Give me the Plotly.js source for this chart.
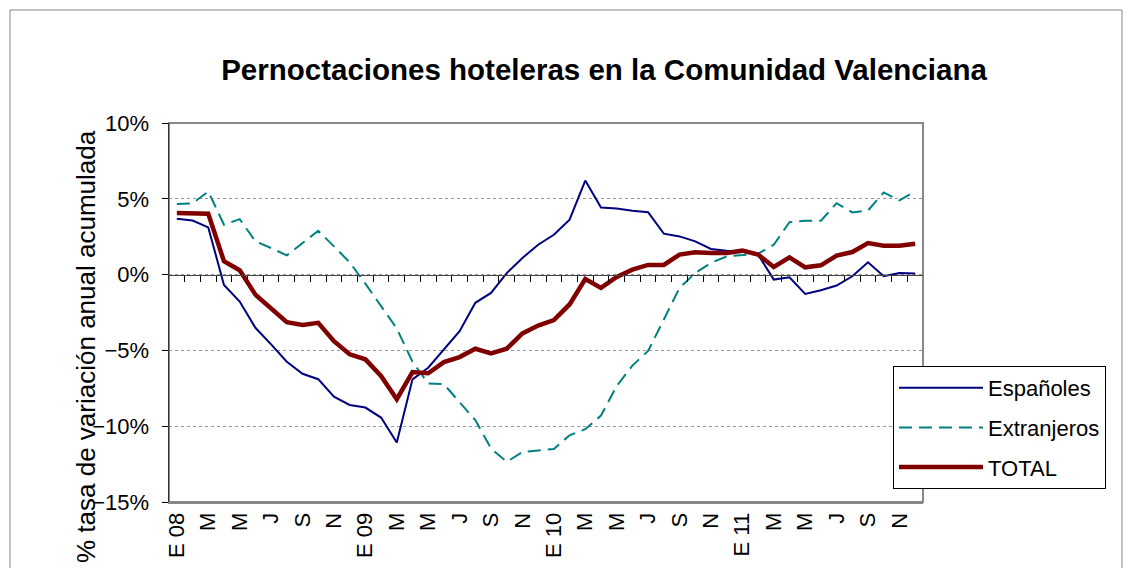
<!DOCTYPE html>
<html>
<head>
<meta charset="utf-8">
<script src="https://cdn.plot.ly/plotly-3.0.1.min.js"></script>
<style>html,body{margin:0;padding:0;background:#fff;}#chart{width:1132px;height:568px;}</style>
</head>
<body>
<div id="chart"></div>
<script>
// Monthly series, Jan 2008 .. Dec 2011 (% annual accumulated variation)
const espanoles = [3.68, 3.57, 3.11, -0.68, -1.78, -3.51, -4.6, -5.75, -6.54, -6.9, -8.05, -8.6,
  -8.77, -9.43, -11.07, -6.91, -6.14, -4.93, -3.73, -1.86, -1.21, 0.1, 1.1, 1.97,
  2.63, 3.62, 6.2, 4.43, 4.36, 4.21, 4.12, 2.7, 2.52, 2.19, 1.69, 1.58,
  1.5, 1.32, -0.33, -0.18, -1.27, -1.03, -0.72, -0.11, 0.81, -0.11, 0.11, 0.07];
const extranjeros = [4.65, 4.7, 5.48, 3.29, 3.66, 2.2, 1.75, 1.27, 2.08, 2.89, 1.86, 0.81,
  -0.6, -2.1, -3.55, -5.75, -7.18, -7.23, -8.4, -9.6, -11.47, -12.35, -11.7, -11.58,
  -11.5, -10.6, -10.2, -9.3, -7.35, -6.0, -5.04, -2.96, -0.88, 0.1, 0.77, 1.2,
  1.29, 1.38, 1.97, 3.46, 3.55, 3.55, 4.71, 4.1, 4.23, 5.42, 4.89, 5.48];
const total = [4.06, 4.01, 4.01, 0.88, 0.29, -1.32, -2.19, -3.14, -3.33, -3.18, -4.39, -5.26,
  -5.59, -6.69, -8.22, -6.43, -6.51, -5.77, -5.44, -4.89, -5.2, -4.89, -3.88, -3.36,
  -3.0, -1.97, -0.29, -0.88, -0.15, 0.33, 0.64, 0.64, 1.32, 1.47, 1.43, 1.43,
  1.58, 1.32, 0.5, 1.14, 0.48, 0.61, 1.25, 1.49, 2.08, 1.91, 1.91, 2.04];
const tickLabels = ['E 08','M','M','J','S','N','E 09','M','M','J','S','N',
  'E 10','M','M','J','S','N','E 11','M','M','J','S','N'];
const seriesNames = ['Españoles', 'Extranjeros', 'TOTAL'];

const xs = espanoles.map((_, i) => i);
const labelVals = tickLabels.map((_, i) => i * 2);
const boundaryVals = xs.slice(0, xs.length - 1).map(i => i + 0.5);

const traces = [
  {x: xs, y: espanoles, name: seriesNames[0], type: 'scatter', mode: 'lines', legendgroup: 'a',
   line: {color: '#000080', width: 2}},
  {x: xs, y: extranjeros, name: seriesNames[1], type: 'scatter', mode: 'lines', legendgroup: 'b',
   line: {color: '#008080', width: 2, dash: '13px,7px'}},
  {x: xs, y: total, name: seriesNames[2], type: 'scatter', mode: 'lines', legendgroup: 'c',
   line: {color: '#800000', width: 4.5}},
  // empty trace so the zero-crossing category axis (x2) is drawn
  {x: [], y: [], xaxis: 'x2', yaxis: 'y', type: 'scatter', mode: 'lines',
   showlegend: false, hoverinfo: 'skip'}
];

// plot area in pixels: x 169..923, y 123..502
const L = 169, R = 923, T = 123, B = 502;
const px = v => (v - L) / (R - L);
const py = v => (B - v) / (B - T);

const layout = {
  width: 1132, height: 568,
  margin: {l: L, r: 1132 - R, t: T, b: 568 - B, pad: 0},
  paper_bgcolor: '#fff', plot_bgcolor: '#fff',
  font: {family: 'Liberation Sans, Arial, sans-serif', color: '#000'},
  title: {text: '<b>Pernoctaciones hoteleras en la Comunidad Valenciana</b>',
    font: {size: 29.5, color: '#000'}, x: px(604), xref: 'paper', xanchor: 'center',
    y: 1 - 70 / 568, yref: 'container', yanchor: 'middle'},
  showlegend: true,
  legend: {x: px(893), y: py(366), xanchor: 'left', yanchor: 'top',
    bgcolor: '#fff', bordercolor: '#000', borderwidth: 1,
    font: {size: 22, color: '#000'}, tracegroupgap: 8, itemwidth: 84},
  xaxis: {range: [-0.5, 47.5], tickmode: 'array', tickvals: labelVals, ticktext: tickLabels,
    tickangle: -90, ticks: '', showgrid: false, zeroline: false,
    showline: true, linecolor: '#888', linewidth: 2, mirror: false,
    tickfont: {size: 22, color: '#000'}, fixedrange: true},
  xaxis2: {range: [-0.5, 47.5], overlaying: 'x', anchor: 'free', position: 0.6,
    tickmode: 'array', tickvals: boundaryVals, ticks: 'outside', ticklen: 6, tickwidth: 1,
    tickcolor: '#000', showticklabels: false, showgrid: false, zeroline: false,
    showline: true, linecolor: '#444', linewidth: 1.5, side: 'bottom'},
  yaxis: {range: [-15, 10], dtick: 5, tick0: 0, ticksuffix: '%', ticks: 'outside', ticklen: 6,
    tickcolor: '#000', showline: true, linecolor: '#333', linewidth: 1.5,
    showgrid: true, gridcolor: '#999', griddash: 'dot', gridwidth: 1, zeroline: false,
    tickfont: {size: 22, color: '#000'}, ticklabelstandoff: 8, fixedrange: true},
  annotations: [{text: '% tasa de variación anual acumulada', textangle: -90,
    xref: 'paper', yref: 'paper', x: px(86), y: py(347), xanchor: 'center', yanchor: 'middle',
    showarrow: false, font: {size: 26, color: '#000'}}],
  shapes: [
    {type: 'rect', xref: 'paper', yref: 'paper', x0: 0, x1: 1, y0: 0, y1: 1,
     line: {color: '#888', width: 2}, layer: 'below'},
    {type: 'rect', xref: 'paper', yref: 'paper', x0: px(10), x1: px(1122), y0: py(600), y1: py(10),
     line: {color: '#888', width: 1}, layer: 'below'}
  ]
};

Plotly.newPlot('chart', traces, layout, {displayModeBar: false, staticPlot: true});
</script>
</body>
</html>
